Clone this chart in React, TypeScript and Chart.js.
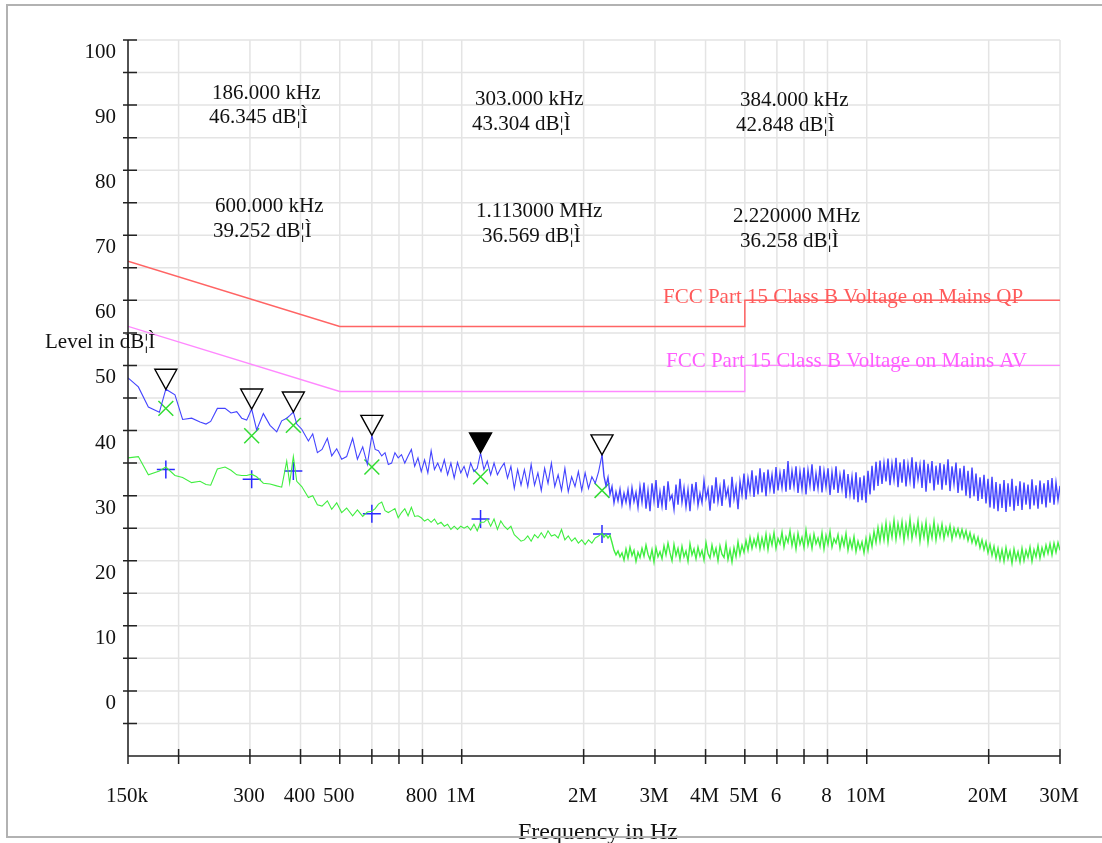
import React, { useEffect, useRef } from "react";
import { Chart, registerables } from "chart.js";

Chart.register(...registerables);

// ---------- axes ----------
const X_MIN = 150000;
const X_MAX = 30000000;
const Y_MIN = -10;
const Y_MAX = 100;

const xTickFreqs = [150e3, 200e3, 300e3, 400e3, 500e3, 600e3, 700e3, 800e3, 1e6, 2e6, 3e6, 4e6, 5e6, 6e6, 7e6, 8e6, 10e6, 20e6, 30e6];
const xTickLabels = ["150k", "", "300", "400", "500", "", "", "800", "1M", "2M", "3M", "4M", "5M", "6", "", "8", "10M", "20M", "30M"];
const yGridValues = [-5, 0, 5, 10, 15, 20, 25, 30, 35, 40, 45, 50, 55, 60, 65, 70, 75, 80, 85, 90, 95, 100];
const yLabelValues = [0, 10, 20, 30, 40, 50, 60, 70, 80, 90, 100];

const xTitle = "Frequency in Hz";
const yTitle = "Level in dB¦Ì";

// ---------- limit lines ----------
const limitFreqs = [150e3, 500e3, 5e6, 5e6, 30e6];
const qpLimitLevels = [66, 56, 56, 60, 60];
const avLimitLevels = [56, 46, 46, 50, 50];
const qpLimitName = "FCC Part 15 Class B Voltage on Mains QP";
const avLimitName = "FCC Part 15 Class B Voltage on Mains AV";

// ---------- low band sweep (150 kHz - 600 kHz), frequencies in kHz ----------
const lowBandFreqKHz = [150, 159.1, 168.4, 179.3, 186, 195.9, 204.6, 215.4, 225.9, 233.7, 240, 249.3, 260.4, 269.4, 278.3, 286.3, 294.5, 303, 311.7, 323.8, 336.3, 349.4, 359.4, 369.8, 376, 384, 391.5, 402.8, 418.3, 428.7, 440.2, 452, 465.9, 477.6, 491.3, 505.4, 519.9, 537.9, 552.7, 569.6, 584.9];
const peakLow = [48.1, 46.7, 43.6, 42.8, 46.35, 45.5, 41.7, 41.9, 41.3, 41.0, 41.4, 43.4, 43.4, 42.7, 42.9, 41.9, 41.6, 43.3, 40.1, 42.6, 40.8, 39.8, 41.5, 41.9, 42.3, 42.85, 41.0, 40.2, 38.4, 39.5, 36.6, 37.1, 38.8, 36.1, 37.2, 35.6, 36.0, 38.8, 35.6, 37.5, 34.8];
const avgLow = [35.8, 36.0, 33.2, 33.8, 34.4, 33.1, 32.8, 32.0, 32.2, 31.7, 31.6, 34.1, 34.4, 33.9, 33.2, 33.1, 33.1, 33.3, 32.9, 31.9, 31.8, 31.5, 31.3, 35.3, 31.9, 36.0, 32.2, 31.4, 29.7, 30.0, 28.6, 28.4, 29.2, 27.9, 28.9, 27.4, 28.1, 26.9, 27.8, 26.8, 27.5];

// ---------- sweep 600 kHz - 1.113 MHz (both ends included) ----------
const bandB1 = [600e3, 1.113e6];
const peakB1 = [39.25, 37.1, 36.9, 36.1, 36.6, 34.8, 35.0, 36.6, 35.8, 36.3, 35.0, 36.1, 37.1, 34.5, 35.8, 33.7, 35.5, 33.5, 36.9, 34.0, 35.0, 33.7, 35.5, 33.2, 35.0, 32.7, 35.1, 33.5, 34.5, 32.9, 35.0, 33.7, 34.2, 36.57];
const avgB1 = [27.6, 28.0, 28.7, 29.0, 27.7, 27.4, 27.7, 28.0, 26.6, 27.4, 28.0, 26.9, 28.2, 26.8, 26.9, 26.6, 26.1, 26.4, 25.9, 26.4, 25.6, 25.9, 25.3, 25.6, 24.8, 25.3, 24.8, 25.3, 25.0, 25.3, 24.7, 25.6, 24.6, 25.9];

// ---------- sweep 1.113 MHz (excl.) - 2.22 MHz ----------
const bandB2 = [1.113e6, 2.22e6];
const peakB2 = [34.0, 35.3, 33.2, 35.0, 33.2, 34.2, 35.0, 32.7, 34.5, 31.1, 34.0, 31.6, 34.0, 31.4, 34.8, 31.6, 33.5, 30.8, 34.2, 31.9, 35.0, 31.4, 33.2, 30.8, 34.2, 30.6, 32.9, 31.4, 33.7, 30.8, 33.5, 31.1, 32.9, 31.9, 33.7, 36.26];
const avgB2 = [25.9, 26.4, 25.3, 26.4, 24.8, 26.1, 25.3, 24.8, 25.3, 24.0, 23.5, 23.0, 23.2, 23.8, 23.0, 24.0, 23.5, 24.3, 23.5, 24.6, 23.8, 24.0, 23.5, 24.8, 23.2, 23.8, 23.0, 23.5, 22.7, 23.2, 22.5, 23.2, 22.7, 23.5, 23.8, 24.2];

// ---------- sweep 2.22 MHz (excl.) - 30 MHz ----------
const bandC = [2.22e6, 30e6];
const peakC = [
  33.0, 31.5, 32.8, 30.2, 31.4, 28.9, 30.6, 29.2, 31.0,
  28.6, 30.4, 29.0, 30.9, 28.4, 31.2, 29.1, 30.5, 28.2, 31.4,
  29.0, 32.0, 28.0, 30.8, 27.6, 31.9, 29.2, 32.4, 28.1, 30.6,
  28.4, 31.5, 27.8, 32.2, 29.4, 30.1, 27.9, 31.7, 28.6, 32.6,
  29.0, 31.2, 28.3, 30.9, 27.6, 31.8, 29.3, 32.1, 28.5, 30.4,
  28.9, 32.3, 29.6, 31.0, 27.7, 31.6, 28.8, 32.8, 29.1, 31.3,
  28.4, 32.5, 29.8, 31.1, 28.2, 32.9, 29.5, 31.4, 27.9, 32.2,
  30.1, 33.4, 29.4, 32.7, 30.6, 33.9, 29.8, 33.1, 30.2, 34.2,
  30.5, 33.6, 29.9, 34.0, 31.0, 33.2, 30.3, 34.4, 30.8, 33.5,
  31.2, 34.1, 30.6, 35.3, 30.9, 33.8, 31.4, 34.5, 30.4, 33.7,
  31.0, 34.3, 30.2, 33.9, 31.5, 34.8, 30.7, 33.4, 31.1, 34.6,
  30.5, 33.8, 31.3, 34.2, 30.1, 33.6, 30.9, 34.5, 30.4, 33.2,
  31.0, 34.0, 29.6, 33.3, 30.2, 32.9, 29.4, 33.6, 29.0, 32.8,
  29.3, 33.1, 28.9, 33.8, 30.2, 34.6, 30.8, 35.2, 31.5, 35.4,
  31.8, 35.0, 32.2, 35.7, 31.6, 34.9, 32.4, 35.8, 31.3, 35.1,
  32.0, 35.6, 31.4, 34.8, 32.3, 35.9, 31.1, 35.2, 32.5, 34.7,
  31.2, 35.5, 30.6, 34.9, 31.9, 35.3, 30.8, 34.6, 31.7, 35.0,
  30.9, 34.8, 31.6, 35.6, 30.7, 34.5, 31.8, 35.1, 30.4, 34.2,
  30.8, 34.6, 30.0, 33.8, 29.6, 34.3, 29.9, 33.4, 29.2, 32.8,
  29.5, 33.2, 28.8, 32.6, 28.2, 32.9, 28.0, 32.1, 27.6, 31.8,
  28.1, 32.4, 27.5, 31.9, 28.3, 32.6, 27.7, 31.5, 28.4, 32.2,
  27.8, 32.0, 28.6, 31.7, 27.9, 32.5, 28.5, 31.6, 28.0, 32.3,
  28.7, 31.9, 28.2, 32.4, 28.9, 32.7, 28.6, 32.0, 29.3, 31.5,
];
const avgC = [
  23.6, 24.0, 23.5, 23.9, 22.8, 21.6, 20.9, 21.5, 20.6,
  21.2, 20.1, 21.8, 20.4, 22.1, 20.8, 21.6, 19.9, 21.3, 20.5,
  21.9, 20.7, 22.4, 21.0, 20.2, 21.7, 19.8, 22.0, 20.6, 21.4,
  20.3, 22.3, 20.9, 22.7, 21.2, 20.0, 22.5, 20.8, 21.9, 20.2,
  22.2, 20.6, 21.5, 19.9, 22.6, 20.9, 21.8, 20.3, 22.1, 20.7,
  21.6, 20.1, 22.8, 21.1, 20.4, 22.4, 20.8, 21.9, 20.0, 22.3,
  21.0, 20.5, 22.6, 20.2, 21.7, 19.8, 22.0, 20.6, 22.9, 20.9,
  22.4, 21.3, 23.1, 21.6, 23.6, 21.9, 23.3, 22.2, 23.9, 21.8,
  23.5, 22.0, 24.1, 21.7, 23.8, 22.4, 24.3, 21.9, 23.4, 22.6,
  24.4, 22.1, 23.7, 22.8, 24.6, 22.3, 23.9, 21.8, 24.2, 22.5,
  23.6, 22.0, 24.7, 22.4, 23.8, 21.9, 24.1, 22.6, 23.5, 22.2,
  24.3, 21.8, 23.9, 22.5, 24.5, 22.1, 23.4, 22.7, 24.0, 21.9,
  23.6, 22.3, 24.2, 21.6, 23.3, 21.9, 23.7, 21.4, 23.0, 21.8,
  22.9, 21.2, 23.4, 21.6, 23.8, 22.2, 24.5, 22.8, 25.1, 23.0,
  25.3, 23.2, 25.8, 22.9, 25.5, 23.6, 26.2, 23.3, 25.7, 23.8,
  26.0, 23.1, 25.6, 23.7, 26.4, 23.4, 25.4, 23.9, 26.1, 23.0,
  25.5, 23.6, 25.9, 22.8, 25.2, 23.5, 26.0, 23.2, 25.3, 23.7,
  25.6, 23.4, 25.1, 23.9, 25.4, 23.3, 25.0, 23.8, 24.9, 23.6,
  24.8, 23.5, 24.6, 23.1, 24.3, 22.8, 23.9, 22.5, 23.6, 22.0,
  23.2, 21.7, 22.9, 21.2, 22.5, 20.8, 22.2, 20.4, 21.9, 20.1,
  21.7, 19.9, 22.0, 20.3, 21.5, 19.6, 21.8, 20.2, 21.4, 19.8,
  21.9, 20.0, 21.6, 20.5, 22.1, 19.9, 21.7, 20.6, 22.3, 20.4,
  22.0, 20.8, 22.4, 21.1, 22.6, 20.9, 22.7, 21.3, 22.8, 21.6,
];

// ---------- markers ----------
const markerFreqs = [186e3, 303e3, 384e3, 600e3, 1.113e6, 2.22e6];
const markerPeakLevels = [46.345, 43.304, 42.848, 39.252, 36.569, 36.258];
const markerQPLevels = [43.4, 39.2, 40.8, 34.4, 32.9, 30.8];
const markerAVLevels = [34.0, 32.5, 33.8, 27.2, 26.4, 24.1];
const markerFreqText = ["186.000 kHz", "303.000 kHz", "384.000 kHz", "600.000 kHz", "1.113000 MHz", "2.220000 MHz"];
const markerLevelText = ["46.345 dB¦Ì", "43.304 dB¦Ì", "42.848 dB¦Ì", "39.252 dB¦Ì", "36.569 dB¦Ì", "36.258 dB¦Ì"];
const activeMarker = 4;

// ---------- helpers ----------
function sweep(from: number, to: number, values: number[], includeStart: boolean) {
  const n = values.length;
  const steps = includeStart ? n - 1 : n;
  return values.map((v, i) => {
    const t = (includeStart ? i : i + 1) / steps;
    return { x: from * Math.pow(to / from, t), y: v };
  });
}

// sparse part: 150 kHz .. 2.22 MHz
function buildLowTrace(low: number[], b1: number[], b2: number[]) {
  return [
    ...lowBandFreqKHz.map((f, i) => ({ x: f * 1000, y: low[i] })),
    ...sweep(bandB1[0], bandB1[1], b1, true),
    ...sweep(bandB2[0], bandB2[1], b2, false),
  ];
}
// dense part: 2.22 MHz .. 30 MHz, joined to the last point of the sparse part
function buildHighTrace(b2: number[], c: number[]) {
  return [{ x: bandC[0], y: b2[b2.length - 1] }, ...sweep(bandC[0], bandC[1], c, false)];
}

const FONT = "'Liberation Serif', 'Times New Roman', serif";

// text layout (left x, baseline y) for marker readouts
const readoutPos = [
  [212, 99, 209, 123],
  [475, 105, 472, 130],
  [740, 106, 736, 131],
  [215, 212, 213, 237],
  [476, 217, 482, 242],
  [733, 222, 740, 247],
];

const overlay = {
  id: "emiOverlay",
  beforeDatasetsDraw(chart: any) {
    const { ctx, chartArea: a } = chart;
    const xs = chart.scales.x;
    const ys = chart.scales.y;
    ctx.save();
    ctx.strokeStyle = "#e4e4e4";
    ctx.lineWidth = 1.5;
    ctx.beginPath();
    for (const f of xTickFreqs) {
      const x = xs.getPixelForValue(f);
      ctx.moveTo(x, a.top);
      ctx.lineTo(x, a.bottom);
    }
    for (const v of yGridValues) {
      const y = ys.getPixelForValue(v);
      ctx.moveTo(a.left, y);
      ctx.lineTo(a.right, y);
    }
    ctx.stroke();
    ctx.restore();
  },
  afterDatasetsDraw(chart: any) {
    const { ctx, chartArea: a } = chart;
    const xs = chart.scales.x;
    const ys = chart.scales.y;
    ctx.save();

    // axes
    ctx.strokeStyle = "#222";
    ctx.lineWidth = 1.5;
    ctx.beginPath();
    ctx.moveTo(a.left, a.top);
    ctx.lineTo(a.left, a.bottom);
    ctx.lineTo(a.right, a.bottom);
    for (const v of yGridValues) {
      const y = ys.getPixelForValue(v);
      ctx.moveTo(a.left - 5, y);
      ctx.lineTo(a.left + 9, y);
    }
    for (const f of xTickFreqs) {
      const x = xs.getPixelForValue(f);
      ctx.moveTo(x, a.bottom - 7);
      ctx.lineTo(x, a.bottom + 8);
    }
    ctx.stroke();

    // tick labels
    ctx.fillStyle = "#111";
    ctx.font = `21px ${FONT}`;
    ctx.textBaseline = "alphabetic";
    ctx.textAlign = "right";
    for (const v of yLabelValues) {
      const y = ys.getPixelForValue(v);
      ctx.fillText(String(v), a.left - 12, y + 18);
    }
    ctx.textAlign = "center";
    xTickFreqs.forEach((f, i) => {
      if (!xTickLabels[i]) return;
      const x = xs.getPixelForValue(f);
      ctx.fillText(xTickLabels[i], x - 1, a.bottom + 46);
    });

    // axis titles
    ctx.textAlign = "left";
    ctx.fillText(yTitle, 45, 348);

    // marker readouts
    markerFreqText.forEach((t, i) => {
      const p = readoutPos[i];
      ctx.fillText(t, p[0], p[1]);
      ctx.fillText(markerLevelText[i], p[2], p[3]);
    });

    // limit names
    ctx.fillStyle = "#ff5a5a";
    ctx.fillText(qpLimitName, 663, 303);
    ctx.fillStyle = "#ff5cff";
    ctx.fillText(avLimitName, 666, 367);

    // marker triangles
    ctx.strokeStyle = "#000";
    ctx.fillStyle = "#000";
    ctx.lineWidth = 1.4;
    markerFreqs.forEach((f, i) => {
      const x = xs.getPixelForValue(f);
      const y = ys.getPixelForValue(markerPeakLevels[i]);
      ctx.beginPath();
      ctx.moveTo(x - 11, y - 20);
      ctx.lineTo(x + 11, y - 20);
      ctx.lineTo(x, y);
      ctx.closePath();
      if (i === activeMarker) ctx.fill();
      ctx.stroke();
    });

    // x title
    ctx.fillStyle = "#111";
    ctx.font = `24px ${FONT}`;
    ctx.fillText(xTitle, 518, 839);

    // outer frame
    ctx.strokeStyle = "#b2b2b2";
    ctx.lineWidth = 2;
    ctx.strokeRect(7, 5, 1110, 832);
    ctx.restore();
  },
};

export default function App() {
  const ref = useRef<HTMLCanvasElement>(null);
  useEffect(() => {
    const canvas = ref.current;
    if (!canvas) return;
    const chart = new Chart(canvas, {
      type: "scatter",
      data: {
        datasets: [
          {
            label: "QP limit",
            data: limitFreqs.map((f, i) => ({ x: f, y: qpLimitLevels[i] })),
            showLine: true,
            borderColor: "#ff6464",
            borderWidth: 1.5,
            pointRadius: 0,
          },
          {
            label: "AV limit",
            data: limitFreqs.map((f, i) => ({ x: f, y: avLimitLevels[i] })),
            showLine: true,
            borderColor: "#ff88ff",
            borderWidth: 1.3,
            pointRadius: 0,
          },
          {
            label: "Average",
            data: buildLowTrace(avgLow, avgB1, avgB2),
            showLine: true,
            borderColor: "#40ee40",
            borderWidth: 1.1,
            pointRadius: 0,
          },
          {
            label: "Average (dense)",
            data: buildHighTrace(avgB2, avgC),
            showLine: true,
            borderColor: "#40ee40",
            borderWidth: 1.4,
            pointRadius: 0,
          },
          {
            label: "Peak",
            data: buildLowTrace(peakLow, peakB1, peakB2),
            showLine: true,
            borderColor: "#4444ff",
            borderWidth: 1.1,
            pointRadius: 0,
          },
          {
            label: "Peak (dense)",
            data: buildHighTrace(peakB2, peakC),
            showLine: true,
            borderColor: "#4444ff",
            borderWidth: 1.4,
            pointRadius: 0,
          },
          {
            label: "QP markers",
            data: markerFreqs.map((f, i) => ({ x: f, y: markerQPLevels[i] })),
            showLine: false,
            pointStyle: "crossRot",
            pointRadius: 10.5,
            borderColor: "#33dd33",
            borderWidth: 1.5,
          },
          {
            label: "AV markers",
            data: markerFreqs.map((f, i) => ({ x: f, y: markerAVLevels[i] })),
            showLine: false,
            pointStyle: "cross",
            pointRadius: 9,
            borderColor: "#2b2bff",
            borderWidth: 1.5,
          },
        ],
      },
      options: {
        responsive: false,
        animation: false,
        devicePixelRatio: 1,
        layout: { padding: { left: 128, right: 42, top: 40, bottom: 87 } },
        elements: { line: { tension: 0 } },
        plugins: { legend: { display: false }, tooltip: { enabled: false } },
        scales: {
          x: { type: "logarithmic", min: X_MIN, max: X_MAX, display: false },
          y: { type: "linear", min: Y_MIN, max: Y_MAX, display: false },
        },
      },
      plugins: [overlay],
    });
    return () => chart.destroy();
  }, []);
  return (
    <div style={{ position: "fixed", left: 0, top: 0, width: 1102, height: 843, background: "#fff" }}>
      <canvas ref={ref} width={1102} height={843} style={{ display: "block", width: 1102, height: 843 }} />
    </div>
  );
}
